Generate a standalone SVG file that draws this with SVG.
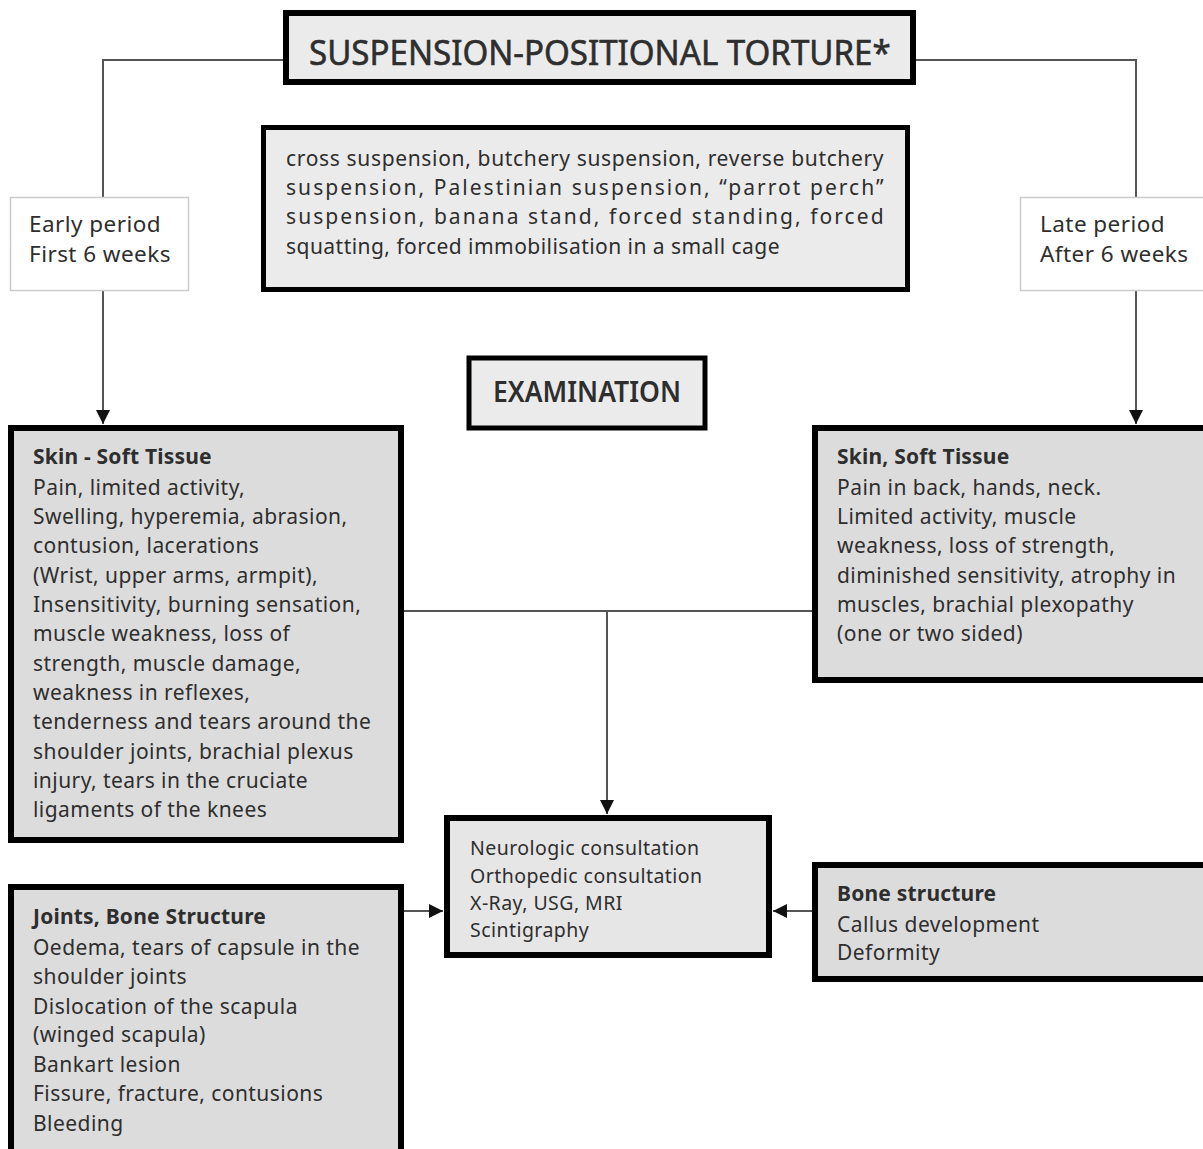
<svg xmlns="http://www.w3.org/2000/svg" width="1203" height="1149" viewBox="0 0 1203 1149">
<defs>
<style>
text{font-family:"Noto Sans","Liberation Sans",Arial,sans-serif;fill:#2e2e2e;font-size:21px;letter-spacing:0.45px}
.b{font-weight:bold;letter-spacing:0.2px}
.ttl{font-size:35px;letter-spacing:0;stroke:#2e2e2e;stroke-width:0.6}
.exam{font-size:29px;font-weight:600;letter-spacing:0}
.per{font-size:22.5px}
.con{font-size:19.5px}
.thick{stroke:#000;stroke-width:6}
.conn{stroke:#555;stroke-width:2;fill:none}
</style>
<marker id="ah2" viewBox="0 0 10 10" refX="10" refY="5" markerWidth="14" markerHeight="14" markerUnits="userSpaceOnUse" orient="auto">
<path d="M0,0 L10,5 L0,10 z" fill="#111"/>
</marker>
</defs>
<rect width="1203" height="1149" fill="#fff"/>
<g id="connectors">
<polyline class="conn" points="286,60 103,60 103,197"/>
<polyline class="conn" points="913,60 1136,60 1136,197"/>
<line class="conn" x1="103" y1="290" x2="103" y2="424" marker-end="url(#ah2)"/>
<line class="conn" x1="1136" y1="290" x2="1136" y2="424" marker-end="url(#ah2)"/>
<line class="conn" x1="404" y1="611" x2="812" y2="611"/>
<line class="conn" x1="607" y1="611" x2="607" y2="814" marker-end="url(#ah2)"/>
<line class="conn" x1="404" y1="911" x2="443" y2="911" marker-end="url(#ah2)"/>
<line class="conn" x1="812" y1="911" x2="773" y2="911" marker-end="url(#ah2)"/>
</g>
<g id="title">
<rect x="286" y="13" width="627" height="69" fill="#ebebeb" class="thick"/>
<text x="0" y="0" class="ttl" transform="translate(309,65) scale(0.945,1)">SUSPENSION-POSITIONAL TORTURE*</text>
</g>
<g id="methods">
<rect x="263.5" y="127.5" width="644" height="162" fill="#ebebeb" stroke="#000" stroke-width="5"/>
<text x="286" y="166" textLength="598" lengthAdjust="spacing">cross suspension, butchery suspension, reverse butchery</text>
<text x="286" y="195" textLength="598" lengthAdjust="spacing">suspension, Palestinian suspension, “parrot perch”</text>
<text x="286" y="224" textLength="598" lengthAdjust="spacing">suspension, banana stand, forced standing, forced</text>
<text x="286" y="254" textLength="494" lengthAdjust="spacingAndGlyphs">squatting, forced immobilisation in a small cage</text>
</g>
<g id="early">
<rect x="10.5" y="197.5" width="178" height="93" fill="#fff" stroke="#ccc" stroke-width="1.5"/>
<text x="29" y="232" class="per">Early period</text>
<text x="29" y="262" class="per">First 6 weeks</text>
</g>
<g id="late">
<rect x="1020.5" y="197.5" width="190" height="93" fill="#fff" stroke="#ccc" stroke-width="1.5"/>
<text x="1040" y="232" class="per">Late period</text>
<text x="1040" y="262" class="per">After 6 weeks</text>
</g>
<g id="examination">
<rect x="469" y="358" width="236" height="70" fill="#ebebeb" stroke="#000" stroke-width="5"/>
<text x="493" y="402" class="exam" textLength="188" lengthAdjust="spacingAndGlyphs">EXAMINATION</text>
</g>
<g id="early-skin">
<rect x="11" y="428" width="390" height="412" fill="#dcdcdc" class="thick"/>
<text x="33" y="464" class="b">Skin - Soft Tissue</text>
<text x="33" y="495">Pain, limited activity,</text>
<text x="33" y="524">Swelling, hyperemia, abrasion,</text>
<text x="33" y="553">contusion, lacerations</text>
<text x="33" y="583">(Wrist, upper arms, armpit),</text>
<text x="33" y="612">Insensitivity, burning sensation,</text>
<text x="33" y="641">muscle weakness, loss of</text>
<text x="33" y="671">strength, muscle damage,</text>
<text x="33" y="700">weakness in reflexes,</text>
<text x="33" y="729">tenderness and tears around the</text>
<text x="33" y="759">shoulder joints, brachial plexus</text>
<text x="33" y="788">injury, tears in the cruciate</text>
<text x="33" y="817">ligaments of the knees</text>
</g>
<g id="late-skin">
<rect x="815" y="428" width="395" height="252" fill="#dcdcdc" class="thick"/>
<text x="837" y="464" class="b">Skin, Soft Tissue</text>
<text x="837" y="495">Pain in back, hands, neck.</text>
<text x="837" y="524">Limited activity, muscle</text>
<text x="837" y="553">weakness, loss of strength,</text>
<text x="837" y="583">diminished sensitivity, atrophy in</text>
<text x="837" y="612">muscles, brachial plexopathy</text>
<text x="837" y="641">(one or two sided)</text>
</g>
<g id="consult">
<rect x="447" y="818" width="322" height="137" fill="#e6e6e6" class="thick"/>
<text x="470" y="855" class="con">Neurologic consultation</text>
<text x="470" y="883" class="con">Orthopedic consultation</text>
<text x="470" y="910" class="con">X-Ray, USG, MRI</text>
<text x="470" y="937" class="con">Scintigraphy</text>
</g>
<g id="joints">
<rect x="11" y="887" width="390" height="270" fill="#dcdcdc" class="thick"/>
<text x="33" y="924" class="b">Joints, Bone Structure</text>
<text x="33" y="955">Oedema, tears of capsule in the</text>
<text x="33" y="984">shoulder joints</text>
<text x="33" y="1014">Dislocation of the scapula</text>
<text x="33" y="1042">(winged scapula)</text>
<text x="33" y="1072">Bankart lesion</text>
<text x="33" y="1101">Fissure, fracture, contusions</text>
<text x="33" y="1131">Bleeding</text>
</g>
<g id="bone">
<rect x="815" y="865" width="395" height="114" fill="#dcdcdc" class="thick"/>
<text x="837" y="901" class="b">Bone structure</text>
<text x="837" y="932">Callus development</text>
<text x="837" y="960">Deformity</text>
</g>
</svg>
